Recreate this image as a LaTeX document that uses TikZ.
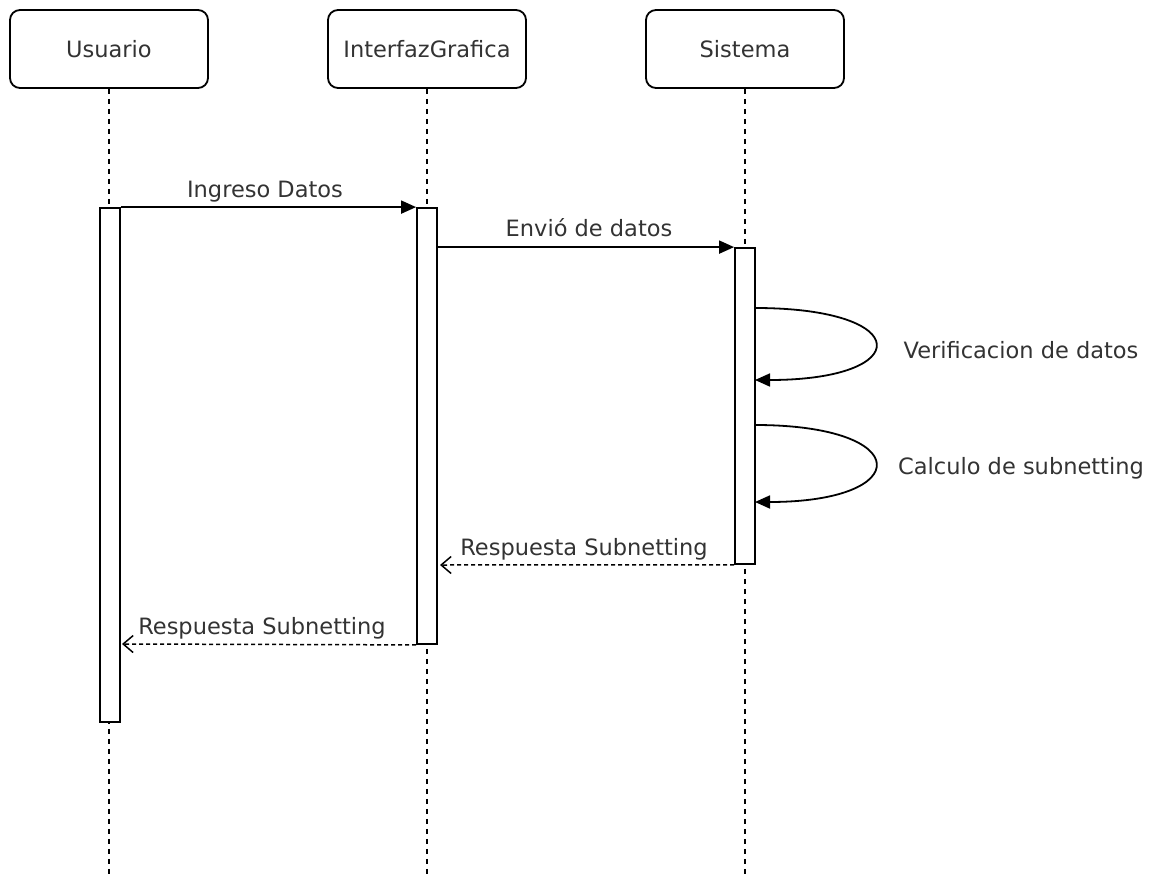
\documentclass[tikz,border=0pt]{standalone}
\usepackage{fontspec}
\setmainfont{DejaVu Sans}
\usetikzlibrary{arrows.meta}
\definecolor{txt}{HTML}{333333}
\tikzset{
  actor/.style={draw, line width=1.8pt, rounded corners=10pt, fill=white,
    minimum width=198pt, minimum height=78pt, text=txt, font=\fontsize{22.5}{26}\selectfont},
  bar/.style={draw, line width=1.8pt, fill=white, minimum width=20pt, inner sep=0pt},
  life/.style={line width=1.5pt, dash pattern=on 5pt off 5pt},
  msg/.style={line width=1.8pt, -{Triangle[length=15pt,width=13pt]}},
  reply/.style={line width=1.5pt, dash pattern=on 4pt off 3pt, -{Straight Barb[length=10pt,width=17pt,line width=1.5pt]}},
  lbl/.style={text=txt, font=\fontsize{22.5}{26}\selectfont, anchor=base, inner sep=0pt},
}
\begin{document}
\begin{tikzpicture}[x=1pt,y=-1pt]
\useasboundingbox (0,0) rectangle (1159,877);

% participants
\node[actor] (usr) at (109,49) {Usuario};
\node[actor] (gui) at (427,49) {InterfazGrafica};
\node[actor] (sys) at (745,49) {Sistema};

% lifeline ends
\coordinate (usrEnd) at (109,877);
\coordinate (guiEnd) at (427,877);
\coordinate (sysEnd) at (745,877);
\draw[life] (usr.south) -- (usrEnd);
\draw[life] (gui.south) -- (guiEnd);
\draw[life] (sys.south) -- (sysEnd);

% activation bars
\node[bar, minimum height=514pt] (usrAct) at (110,465) {};
\node[bar, minimum height=436pt] (guiAct) at (427,426) {};
\node[bar, minimum height=316pt] (sysAct) at (745,406) {};

% messages
\draw[msg] (usrAct.north east) -- (guiAct.north west);
\node[lbl] (m1) at (265,198) {Ingreso Datos};

\draw[msg] (guiAct.east |- sysAct.north) -- (sysAct.north west);
\node[lbl] (m2) at (589,237) {Envió de datos};

% self calls on Sistema
\coordinate (v1) at (755,308);
\coordinate (v2) at (755,380);
\draw[msg] (v1) .. controls (915,308) and (915,380) .. (v2);
\node[lbl] (m3) at (1021,358) {Verificacion de datos};

\coordinate (c1) at (755,425);
\coordinate (c2) at (755,502);
\draw[msg] (c1) .. controls (915,425) and (915,502) .. (c2);
\node[lbl] (m4) at (1021,474) {Calculo de subnetting};

% replies
\coordinate (r1) at (440,565);
\draw[reply] (sysAct.south west) -- (r1);
\node[lbl] (m5) at (584,555) {Respuesta Subnetting};

\coordinate (r2) at (122,644);
\draw[reply] (guiAct.south west) -- (r2);
\node[lbl] (m6) at (262,634) {Respuesta Subnetting};
\end{tikzpicture}
\end{document}
